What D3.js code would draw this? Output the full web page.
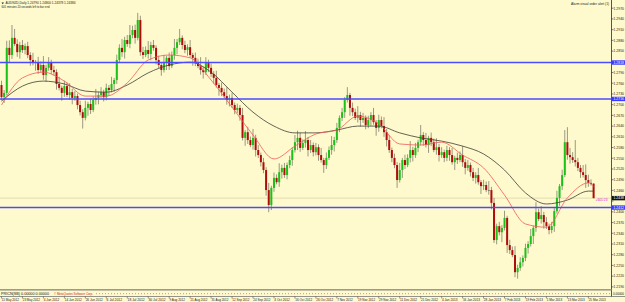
<!DOCTYPE html>
<html>
<head>
<meta charset="utf-8">
<script src="https://cdn.jsdelivr.net/npm/d3@7"></script>
<style>
  body { margin: 0; background: #fffacd; }
  svg { display: block; font-family: "Liberation Sans", Arial, sans-serif; }
</style>
</head>
<body>
<script>
// AUDNZD daily bars, 11 May 2012 - 27 Mar 2013
var opens = [
  1.2755,1.2721,1.2733,1.2859,1.2839,1.2887,1.2870,1.2847,1.2867,1.2853,
  1.2864,1.2839,1.2825,1.2817,1.2819,1.2797,1.2811,1.2783,1.2803,1.2819,
  1.2797,1.2791,1.2758,1.2747,1.2733,1.2752,1.2727,1.2735,1.2719,1.2724,
  1.2699,1.2679,1.2663,1.2691,1.2702,1.2685,1.2713,1.2719,1.2727,1.2735,
  1.2721,1.2747,1.2741,1.2758,1.2769,1.2825,1.2859,1.2847,1.2881,1.2870,
  1.2895,1.2909,1.2887,1.2937,1.2847,1.2839,1.2853,1.2842,1.2867,1.2859,
  1.2825,1.2811,1.2797,1.2819,1.2831,1.2808,1.2839,1.2859,1.2875,1.2887,
  1.2867,1.2853,1.2861,1.2839,1.2831,1.2819,1.2808,1.2797,1.2791,1.2819,
  1.2803,1.2786,1.2775,1.2755,1.2747,1.2735,1.2724,1.2713,1.2719,1.2699,
  1.2685,1.2691,1.2671,1.2607,1.2623,1.2601,1.2587,1.2607,1.2573,1.2559,
  1.2539,1.2517,1.2461,1.2419,1.2467,1.2495,1.2483,1.2511,1.2523,1.2503,
  1.2531,1.2545,1.2573,1.2595,1.2607,1.2579,1.2593,1.2601,1.2573,1.2587,
  1.2567,1.2581,1.2559,1.2545,1.2531,1.2551,1.2573,1.2587,1.2601,1.2635,
  1.2663,1.2679,1.2713,1.2727,1.2691,1.2679,1.2663,1.2671,1.2657,1.2663,
  1.2643,1.2657,1.2671,1.2651,1.2635,1.2657,1.2640,1.2623,1.2601,1.2573,
  1.2551,1.2531,1.2489,1.2517,1.2545,1.2531,1.2551,1.2573,1.2559,1.2579,
  1.2595,1.2615,1.2601,1.2587,1.2607,1.2595,1.2573,1.2581,1.2559,1.2567,
  1.2551,1.2573,1.2559,1.2539,1.2551,1.2545,1.2559,1.2539,1.2523,1.2531,
  1.2511,1.2495,1.2503,1.2483,1.2472,1.2475,1.2461,1.2461,1.2425,1.2321,
  1.2360,1.2343,1.2355,1.2383,1.2307,1.2293,1.2279,1.2231,1.2243,1.2259,
  1.2271,1.2299,1.2310,1.2332,1.2355,1.2399,1.2380,1.2391,1.2371,1.2360,
  1.2349,1.2360,1.2402,1.2439,1.2472,1.2503,1.2595,1.2559,1.2553,1.2545,
  1.2539,1.2523,1.2511,1.2503,1.2489,1.2481,1.24790
]
var highs = [
  1.2767,1.2741,1.2879,1.2880,1.2923,1.2912,1.2883,1.2876,1.2881,1.2871,
  1.2876,1.2847,1.2845,1.2825,1.2834,1.2821,1.2836,1.2812,1.2833,1.2826,
  1.2809,1.2799,1.2778,1.2753,1.2767,1.2762,1.2760,1.2744,1.2738,1.2731,
  1.2711,1.2687,1.2711,1.2708,1.2717,1.2723,1.2744,1.2736,1.2749,1.2742,
  1.2759,1.2755,1.2778,1.2775,1.2840,1.2869,1.2884,1.2890,1.2895,1.2923,
  1.2921,1.2924,1.2957,1.2949,1.2862,1.2863,1.2878,1.2876,1.2881,1.2866,
  1.2837,1.2819,1.2839,1.2837,1.2846,1.2849,1.2884,1.2884,1.2912,1.2894,
  1.2879,1.2869,1.2881,1.2845,1.2846,1.2829,1.2833,1.2806,1.2833,1.2826,
  1.2815,1.2794,1.2795,1.2761,1.2762,1.2745,1.2749,1.2728,1.2733,1.2706,
  1.2703,1.2699,1.2691,1.2629,1.2638,1.2611,1.2632,1.2616,1.2587,1.2566,
  1.2551,1.2525,1.2481,1.2473,1.2510,1.2505,1.2536,1.2532,1.2537,1.2538,
  1.2557,1.2581,1.2615,1.2627,1.2622,1.2603,1.2626,1.2610,1.2601,1.2594,
  1.2593,1.2589,1.2579,1.2551,1.2566,1.2583,1.2612,1.2610,1.2649,1.2670,
  1.2691,1.2721,1.2749,1.2733,1.2706,1.2689,1.2696,1.2680,1.2677,1.2670,
  1.2669,1.2679,1.2691,1.2657,1.2672,1.2667,1.2665,1.2632,1.2615,1.2580,
  1.2563,1.2539,1.2537,1.2551,1.2560,1.2561,1.2598,1.2582,1.2593,1.2602,
  1.2643,1.2623,1.2621,1.2613,1.2622,1.2605,1.2606,1.2590,1.2581,1.2574,
  1.2585,1.2581,1.2579,1.2557,1.2566,1.2569,1.2584,1.2548,1.2545,1.2538,
  1.2523,1.2511,1.2523,1.2489,1.2490,1.2485,1.2486,1.2470,1.2439,1.2367,
  1.2372,1.2363,1.2403,1.2389,1.2322,1.2303,1.2304,1.2252,1.2273,1.2278,
  1.2311,1.2318,1.2352,1.2361,1.2427,1.2409,1.2416,1.2400,1.2385,1.2367,
  1.2372,1.2410,1.2459,1.2478,1.2518,1.2629,1.2637,1.2579,1.2567,1.2601,
  1.2551,1.2531,1.2531,1.2533,1.2504,1.2491,1.24800
]
var lows = [
  1.2712,1.2705,1.2726,1.2817,1.2828,1.2864,1.2834,1.2829,1.2845,1.2841,
  1.2830,1.2809,1.2810,1.2795,1.2786,1.2791,1.2770,1.2765,1.2795,1.2785,
  1.2782,1.2742,1.2740,1.2711,1.2722,1.2721,1.2714,1.2701,1.2711,1.2687,
  1.2670,1.2633,1.2656,1.2669,1.2674,1.2679,1.2700,1.2701,1.2719,1.2709,
  1.2712,1.2725,1.2734,1.2736,1.2758,1.2819,1.2834,1.2829,1.2862,1.2858,
  1.2886,1.2871,1.2880,1.2837,1.2828,1.2833,1.2829,1.2824,1.2851,1.2813,
  1.2802,1.2781,1.2790,1.2797,1.2797,1.2802,1.2826,1.2841,1.2867,1.2855,
  1.2844,1.2837,1.2832,1.2809,1.2808,1.2802,1.2784,1.2773,1.2783,1.2791,
  1.2777,1.2759,1.2748,1.2725,1.2724,1.2718,1.2700,1.2695,1.2691,1.2673,
  1.2676,1.2655,1.2600,1.2585,1.2590,1.2581,1.2574,1.2555,1.2551,1.2527,
  1.2508,1.2445,1.2399,1.2405,1.2456,1.2477,1.2470,1.2493,1.2495,1.2491,
  1.2522,1.2529,1.2566,1.2573,1.2568,1.2573,1.2580,1.2555,1.2565,1.2555,
  1.2558,1.2543,1.2538,1.2509,1.2520,1.2545,1.2560,1.2569,1.2593,1.2623,
  1.2654,1.2663,1.2706,1.2669,1.2668,1.2657,1.2650,1.2639,1.2649,1.2631,
  1.2634,1.2641,1.2644,1.2613,1.2624,1.2634,1.2610,1.2583,1.2565,1.2539,
  1.2522,1.2467,1.2482,1.2495,1.2520,1.2525,1.2538,1.2541,1.2551,1.2567,
  1.2586,1.2585,1.2580,1.2565,1.2584,1.2567,1.2560,1.2541,1.2551,1.2539,
  1.2542,1.2543,1.2532,1.2517,1.2534,1.2539,1.2526,1.2505,1.2515,1.2499,
  1.2486,1.2479,1.2476,1.2450,1.2461,1.2455,1.2448,1.2407,1.2313,1.2309,
  1.2334,1.2315,1.2348,1.2285,1.2282,1.2273,1.2217,1.2213,1.2235,1.2247,
  1.2262,1.2283,1.2303,1.2310,1.2344,1.2374,1.2367,1.2353,1.2352,1.2337,
  1.2340,1.2344,1.2395,1.2417,1.2461,1.2497,1.2546,1.2535,1.2537,1.2527,
  1.2514,1.2495,1.2496,1.2467,1.2470,1.2473,1.24378
]
var closes = [
  1.2721,1.2733,1.2859,1.2839,1.2887,1.2870,1.2847,1.2867,1.2853,1.2864,
  1.2839,1.2825,1.2817,1.2819,1.2797,1.2811,1.2783,1.2803,1.2819,1.2797,
  1.2791,1.2758,1.2747,1.2733,1.2752,1.2727,1.2735,1.2719,1.2724,1.2699,
  1.2679,1.2663,1.2691,1.2702,1.2685,1.2713,1.2719,1.2727,1.2735,1.2721,
  1.2747,1.2741,1.2758,1.2769,1.2825,1.2859,1.2847,1.2881,1.2870,1.2895,
  1.2909,1.2887,1.2937,1.2847,1.2839,1.2853,1.2842,1.2867,1.2859,1.2825,
  1.2811,1.2797,1.2819,1.2831,1.2808,1.2839,1.2859,1.2875,1.2887,1.2867,
  1.2853,1.2861,1.2839,1.2831,1.2819,1.2808,1.2797,1.2791,1.2819,1.2803,
  1.2786,1.2775,1.2755,1.2747,1.2735,1.2724,1.2713,1.2719,1.2699,1.2685,
  1.2691,1.2671,1.2607,1.2623,1.2601,1.2587,1.2607,1.2573,1.2559,1.2539,
  1.2517,1.2461,1.2419,1.2467,1.2495,1.2483,1.2511,1.2523,1.2503,1.2531,
  1.2545,1.2573,1.2595,1.2607,1.2579,1.2593,1.2601,1.2573,1.2587,1.2567,
  1.2581,1.2559,1.2545,1.2531,1.2551,1.2573,1.2587,1.2601,1.2635,1.2663,
  1.2679,1.2713,1.2727,1.2691,1.2679,1.2663,1.2671,1.2657,1.2663,1.2643,
  1.2657,1.2671,1.2651,1.2635,1.2657,1.2640,1.2623,1.2601,1.2573,1.2551,
  1.2531,1.2489,1.2517,1.2545,1.2531,1.2551,1.2573,1.2559,1.2579,1.2595,
  1.2615,1.2601,1.2587,1.2607,1.2595,1.2573,1.2581,1.2559,1.2567,1.2551,
  1.2573,1.2559,1.2539,1.2551,1.2545,1.2559,1.2539,1.2523,1.2531,1.2511,
  1.2495,1.2503,1.2483,1.2472,1.2475,1.2461,1.2461,1.2425,1.2321,1.2360,
  1.2343,1.2355,1.2383,1.2307,1.2293,1.2279,1.2231,1.2243,1.2259,1.2271,
  1.2299,1.2310,1.2332,1.2355,1.2399,1.2380,1.2391,1.2371,1.2360,1.2349,
  1.2360,1.2402,1.2439,1.2472,1.2503,1.2595,1.2559,1.2553,1.2545,1.2539,
  1.2523,1.2511,1.2503,1.2489,1.2481,1.2479,1.24384
]

// moving averages, read at every 8th bar
var maIdx  = [0,8,16,24,32,40,48,56,64,72,80,88,96,104,112,120,128,136,144,152,160,168,176,184,192,200,208,216,224,226]
var maFast = [1.2699,1.2775,1.2791,1.2766,1.2724,1.2724,1.2761,1.2825,1.2839,1.2831,
              1.2769,1.2693,1.2615,1.2548,1.2584,1.2618,1.2629,1.2668,1.2646,1.2590,
              1.2587,1.2595,1.2559,1.2523,1.2447,1.2366,1.2357,1.2439,1.2481,1.2472]
var maSlow = [1.2710,1.2752,1.2766,1.2758,1.2738,1.2735,1.2755,1.2789,1.2811,1.2819,
              1.2791,1.2735,1.2679,1.2640,1.2621,1.2621,1.2629,1.2640,1.2640,1.2621,
              1.2607,1.2598,1.2584,1.2562,1.2517,1.2453,1.2422,1.2433,1.2458,1.2458]

var dateLabels = ["11 May 2012","23 May 2012","4 Jun 2012","14 Jun 2012","26 Jun 2012",
  "6 Jul 2012","18 Jul 2012","30 Jul 2012","9 Aug 2012","21 Aug 2012","31 Aug 2012",
  "12 Sep 2012","24 Sep 2012","4 Oct 2012","16 Oct 2012","26 Oct 2012","7 Nov 2012",
  "19 Nov 2012","29 Nov 2012","11 Dec 2012","21 Dec 2012","4 Jan 2013","16 Jan 2013",
  "28 Jan 2013","7 Feb 2013","19 Feb 2013","1 Mar 2013","13 Mar 2013","25 Mar 2013"]
var barsPerLabel = 8

var priceTicks = [1.2190,1.2220,1.2250,1.2280,1.2310,1.2340,1.2370,1.2400,1.2430,
  1.2460,1.2490,1.2520,1.2550,1.2580,1.2610,1.2640,1.2670,1.2700,1.2730,1.2760,
  1.2790,1.2820,1.2850,1.2880,1.2910,1.2940,1.2970]

var levels = [1.2818, 1.2716, 1.2412]
var lastPrice = 1.24384

var W = 625, H = 302
var plotRight = 611.5, plotBottom = 289

var svg = d3.select("body").append("svg")
  .attr("width", W).attr("height", H)

svg.append("rect").attr("width", W).attr("height", H).attr("fill", "#fffacd")

var x = d3.scaleLinear().domain([0, closes.length - 1]).range([1.5, 593.6])
var y = d3.scaleLinear().domain([1.2184, 1.2993]).range([plotBottom, 0])

var plot = svg.append("g").attr("id", "plot")

// bid line
plot.append("line")
  .attr("x1", 0).attr("x2", plotRight)
  .attr("y1", y(lastPrice)).attr("y2", y(lastPrice))
  .attr("stroke", "#d8cfa8").attr("stroke-width", 0.7)

// candles
var bars = d3.range(closes.length)
var cg = plot.append("g").attr("id", "candles")
cg.selectAll("line").data(bars).enter()
  .append("line")
  .attr("x1", function(i) { return x(i) }).attr("x2", function(i) { return x(i) })
  .attr("y1", function(i) { return y(highs[i]) }).attr("y2", function(i) { return y(lows[i]) })
  .attr("stroke", "#6e6e5e").attr("stroke-width", 0.7)

cg.selectAll("rect").data(bars).enter()
  .append("rect")
  .attr("x", function(i) { return x(i) - 1 })
  .attr("width", 2)
  .attr("y", function(i) { return y(Math.max(opens[i], closes[i])) })
  .attr("height", function(i) {
    return Math.max(0.8, Math.abs(y(opens[i]) - y(closes[i])))
  })
  .attr("fill", function(i) {
    if (closes[i] > opens[i]) return "#19c119"
    if (closes[i] < opens[i]) return "#b00c0c"
    return "#6e6e5e"
  })

// moving averages
var maLine = d3.line()
  .x(function(d) { return x(d[0]) })
  .y(function(d) { return y(d[1]) })
  .curve(d3.curveMonotoneX)

plot.append("path")
  .attr("d", maLine(maIdx.map(function(k, j) { return [k, maSlow[j]] })))
  .attr("fill", "none").attr("stroke", "#3c3c34").attr("stroke-width", 0.8)

plot.append("path")
  .attr("d", maLine(maIdx.map(function(k, j) { return [k, maFast[j]] })))
  .attr("fill", "none").attr("stroke", "#f05a5a").attr("stroke-width", 0.8)

// level lines, drawn over the candles
plot.append("g").attr("id", "levels")
  .selectAll("line").data(levels).enter()
  .append("line")
  .attr("x1", 0).attr("x2", plotRight)
  .attr("y1", function(d) { return y(d) }).attr("y2", function(d) { return y(d) })
  .attr("stroke", "#4a4aff").attr("stroke-width", 1.5)

// right price axis
svg.append("line")
  .attr("x1", plotRight).attr("x2", plotRight).attr("y1", 0).attr("y2", 297)
  .attr("stroke", "#555").attr("stroke-width", 1)

// tick labels hidden under a level or price box are left out
var covered = levels.concat([lastPrice])
var shownTicks = priceTicks.filter(function(t) {
  return covered.every(function(c) { return Math.abs(y(t) - y(c)) > 4.2 })
})

var ax = svg.append("g").attr("id", "priceAxis")
ax.selectAll("line").data(priceTicks).enter()
  .append("line")
  .attr("x1", plotRight).attr("x2", plotRight + 2)
  .attr("y1", function(d) { return y(d) }).attr("y2", function(d) { return y(d) })
  .attr("stroke", "#333").attr("stroke-width", 0.6)
ax.selectAll("text").data(shownTicks).enter()
  .append("text")
  .attr("x", 613.5).attr("y", function(d) { return y(d) + 1.3 })
  .attr("font-size", 3.8).attr("fill", "#222")
  .attr("textLength", 10.5).attr("lengthAdjust", "spacingAndGlyphs")
  .text(function(d) { return d.toFixed(4) })

// labels of levels on the axis
var lv = svg.append("g").attr("id", "levelLabels")
lv.selectAll("rect").data(levels).enter()
  .append("rect")
  .attr("x", plotRight + 0.5).attr("width", 13)
  .attr("y", function(d) { return y(d) - 2.2 }).attr("height", 4.4)
  .attr("fill", "#3a3aff")
lv.selectAll("text").data(levels).enter()
  .append("text")
  .attr("x", 613.5).attr("y", function(d) { return y(d) + 1.3 })
  .attr("font-size", 3.8).attr("fill", "#fff")
  .attr("textLength", 10.5).attr("lengthAdjust", "spacingAndGlyphs")
  .text(function(d) { return d.toFixed(4) })

// current price box
svg.append("rect")
  .attr("x", plotRight + 0.5).attr("width", 13)
  .attr("y", y(lastPrice) - 2.2).attr("height", 4.4)
  .attr("fill", "#111")
svg.append("text")
  .attr("x", 613.5).attr("y", y(lastPrice) + 1.3)
  .attr("font-size", 3.8).attr("fill", "#fff")
  .attr("textLength", 10.5).attr("lengthAdjust", "spacingAndGlyphs")
  .text(lastPrice.toFixed(4))

// bar timer
svg.append("text")
  .attr("x", 595.5).attr("y", y(lastPrice) + 2.4)
  .attr("font-size", 4).attr("fill", "#e020e0")
  .attr("textLength", 12).attr("lengthAdjust", "spacingAndGlyphs")
  .text("+601:23")

// lower window separator and indicator strip
svg.append("rect").attr("x", 0).attr("y", plotBottom).attr("width", plotRight).attr("height", 1.6)
  .attr("fill", "#9c9c8c")
svg.append("line").attr("x1", 0).attr("x2", W).attr("y1", 296.5).attr("y2", 296.5)
  .attr("stroke", "#777").attr("stroke-width", 0.8)
svg.append("text").attr("x", 1).attr("y", 294.8)
  .attr("font-size", 3.4).attr("fill", "#111")
  .attr("textLength", 48).attr("lengthAdjust", "spacingAndGlyphs")
  .text("PRICN(SB) 0.00000 0.00000")
svg.append("text").attr("x", 54).attr("y", 294.8)
  .attr("font-size", 3.4).attr("fill", "#d02020")
  .attr("textLength", 39).attr("lengthAdjust", "spacingAndGlyphs")
  .text("© MetaQuotes Software Corp.")
svg.append("line").attr("x1", 96).attr("x2", plotRight).attr("y1", 293.7).attr("y2", 293.7)
  .attr("stroke", "#d84040").attr("stroke-width", 0.8).attr("stroke-dasharray", "0.8,2.2")
svg.append("text").attr("x", 613).attr("y", 294.8)
  .attr("font-size", 3.6).attr("fill", "#111")
  .attr("textLength", 11).attr("lengthAdjust", "spacingAndGlyphs")
  .text("0.00000")

// time axis
var tg = svg.append("g").attr("id", "timeAxis")
tg.selectAll("line").data(dateLabels).enter()
  .append("line")
  .attr("x1", function(d, k) { return x(k * barsPerLabel) })
  .attr("x2", function(d, k) { return x(k * barsPerLabel) })
  .attr("y1", 296.5).attr("y2", 298.5)
  .attr("stroke", "#333").attr("stroke-width", 0.5)
tg.selectAll("text").data(dateLabels).enter()
  .append("text")
  .attr("x", function(d, k) { return x(k * barsPerLabel) + 0.3 })
  .attr("y", 301.3)
  .attr("font-size", 3.8).attr("fill", "#222")
  .attr("textLength", function(d) { return d.length * 1.55 })
  .attr("lengthAdjust", "spacingAndGlyphs")
  .text(function(d) { return d })

// header texts
svg.append("path").attr("d", "M1.5,2.5 L4,2.5 L2.75,4.2 Z").attr("fill", "#222")
svg.append("text").attr("x", 5.5).attr("y", 4.4)
  .attr("font-size", 3.8).attr("fill", "#222")
  .attr("textLength", 70).attr("lengthAdjust", "spacingAndGlyphs")
  .text("AUDNZD,Daily  1.24790 1.24800 1.24378 1.24384")
svg.append("text").attr("x", 1.5).attr("y", 8.2)
  .attr("font-size", 3.8).attr("fill", "#222")
  .attr("textLength", 48).attr("lengthAdjust", "spacingAndGlyphs")
  .text("601 minutes 20 seconds left to bar end")
svg.append("text").attr("x", 571).attr("y", 5)
  .attr("font-size", 3.8).attr("fill", "#222")
  .attr("textLength", 38).attr("lengthAdjust", "spacingAndGlyphs")
  .text("Alarm visual order alert (1)")
</script>
</body>
</html>
